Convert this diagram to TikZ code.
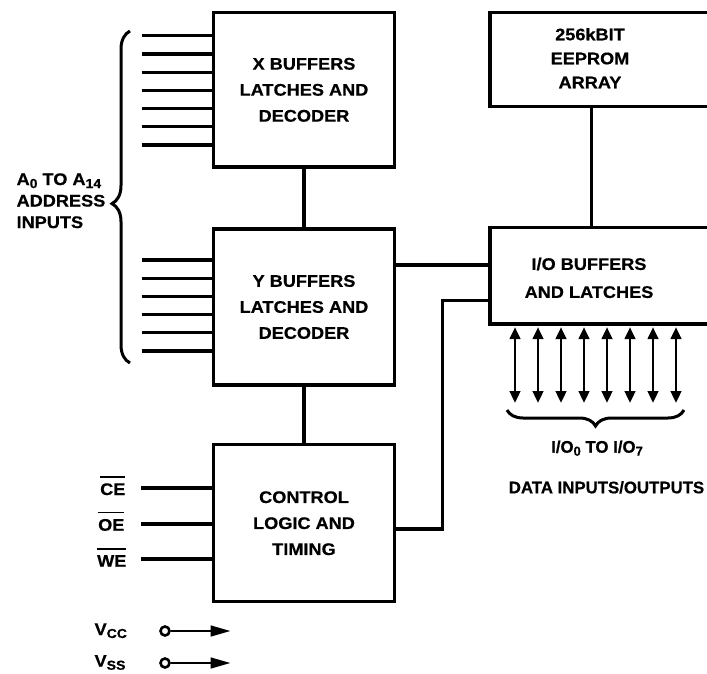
\documentclass[tikz,border=0pt]{standalone}
\usepackage{fontspec}
\setmainfont{Liberation Sans}[BoldFeatures={FakeBold=0.6}]
\newfontfamily\widefont{Liberation Sans}[FakeStretch=1.08,BoldFeatures={FakeBold=0.6}]
\usetikzlibrary{arrows.meta,decorations.pathreplacing}
\newcommand\mysub[1]{\raisebox{-3pt}{\fontsize{13}{13}\selectfont #1}}
\newcommand\ovl[1]{\vbox{\hrule height 1.6pt\kern 5.5pt\hbox{#1}}}
\begin{document}
\begin{tikzpicture}[x=1pt,y=-1pt,line width=3.2pt,
  blk/.style={draw,rectangle,inner sep=0pt,line width=3.3pt},
  btxt/.style={font=\widefont\bfseries\fontsize{16.8}{26}\selectfont,align=center,inner sep=0pt},
  lbl/.style={font=\widefont\bfseries\fontsize{16.8}{21.5}\selectfont,inner sep=0pt},
  plbl/.style={font=\bfseries\fontsize{16.8}{21.5}\selectfont,inner sep=0pt},
  dbl/.style={line width=2.8pt,{Triangle[length=12pt,width=10.5pt]}-{Triangle[length=12pt,width=10.5pt]}},
  pwr/.style={line width=2.8pt,-{Triangle[length=20pt,width=10.5pt]}},
  term/.style={circle,draw,line width=2.6pt,minimum size=9pt,inner sep=0pt},
  brc/.style={decorate,line width=3pt}
]
\useasboundingbox (0,0) rectangle (707,673);

% blocks
\node[blk,btxt,minimum width=180.6pt,minimum height=154.3pt] (X) at (304,89.85) {X BUFFERS\\LATCHES AND\\DECODER};
\node[blk,btxt,minimum width=181pt,minimum height=156pt] (Y) at (304,307) {Y BUFFERS\\LATCHES AND\\DECODER};
\node[blk,btxt,minimum width=181pt,minimum height=157pt] (C) at (304,523.2) {CONTROL\\LOGIC AND\\TIMING};
\node[blk,minimum width=222pt,minimum height=94.4pt] (E) at (601,59.5) {};
\node[btxt,font=\widefont\bfseries\fontsize{16.8}{24}\selectfont] (Et) at (590,58.2) {256kBIT\\EEPROM\\ARRAY};
\node[blk,minimum width=222pt,minimum height=96.3pt] (IO) at (601,275.85) {};
\node[btxt,font=\widefont\bfseries\fontsize{16.8}{28}\selectfont] (IOt) at (589,277.9) {I/O BUFFERS\\AND LATCHES};

% block connectors
\draw (X.south) -- (Y.north);
\draw (Y.south) -- (C.north);
\coordinate (v1) at (591.7,0);
\draw (E.south -| v1) -- (IO.north -| v1);
\coordinate (h1) at (0,265);
\draw (Y.east |- h1) -- (IO.west |- h1);
\coordinate (h2) at (0,529);
\coordinate (bend) at (442.7,300.7);
\draw (C.east |- h2) -| (bend) -- (bend -| IO.west);

% address lines
\foreach \k in {0,...,6} {
  \coordinate (ax\k) at (141.7,35.7+18.2*\k);
  \draw (ax\k) -- (ax\k -| X.west);
}
\foreach \k in {0,...,5} {
  \coordinate (ay\k) at (141.7,260+18.2*\k);
  \draw (ay\k) -- (ay\k -| Y.west);
}
\coordinate (brA) at (130,363);
\coordinate (brB) at (130,31);
\draw[brc,decoration={brace,amplitude=18pt,aspect=0.48}] (brA) -- (brB);
\node[lbl,anchor=north west,align=left] (addr) at (15,171.7) {A\mysub{0} TO A\mysub{14}\\ADDRESS\\INPUTS};

% control inputs
\coordinate (ce) at (141,488);
\coordinate (oe) at (141,524);
\coordinate (we) at (141,559);
\draw (ce) -- (ce -| C.west);
\draw (oe) -- (oe -| C.west);
\draw (we) -- (we -| C.west);
\node[lbl,anchor=base east] (lce) at (127,495) {\ovl{CE}};
\node[lbl,anchor=base east] (loe) at (126,530.7) {\ovl{OE}};
\node[lbl,anchor=base east] (lwe) at (128,566.7) {\ovl{WE}};

% data I/O arrows
\foreach \i in {0,...,7} {
  \coordinate (iob\i) at (515+23*\i,403);
  \draw[dbl] ([yshift=-1.5pt]IO.south -| iob\i) -- (iob\i);
}
\coordinate (brC) at (684,410);
\coordinate (brD) at (507,410);
\draw[brc,decoration={brace,amplitude=16pt}] (brC) -- (brD);
\node[plbl,anchor=base] (dio) at (597,452.7) {I/O\mysub{0} TO I/O\mysub{7}};
\node[plbl,anchor=base] (dat) at (606.5,493.3) {DATA INPUTS/OUTPUTS};

% power
\node[lbl,anchor=base west] (lvcc) at (93,635) {V\mysub{CC}};
\node[lbl,anchor=base west] (lvss) at (93,666.7) {V\mysub{SS}};
\node[term] (vcc) at (165,631) {};
\node[term] (vss) at (165,663) {};
\coordinate (vccend) at (230.7,631);
\coordinate (vssend) at (230.7,663);
\draw[pwr] (vcc.east) -- (vccend);
\draw[pwr] (vss.east) -- (vssend);
\end{tikzpicture}
\end{document}
